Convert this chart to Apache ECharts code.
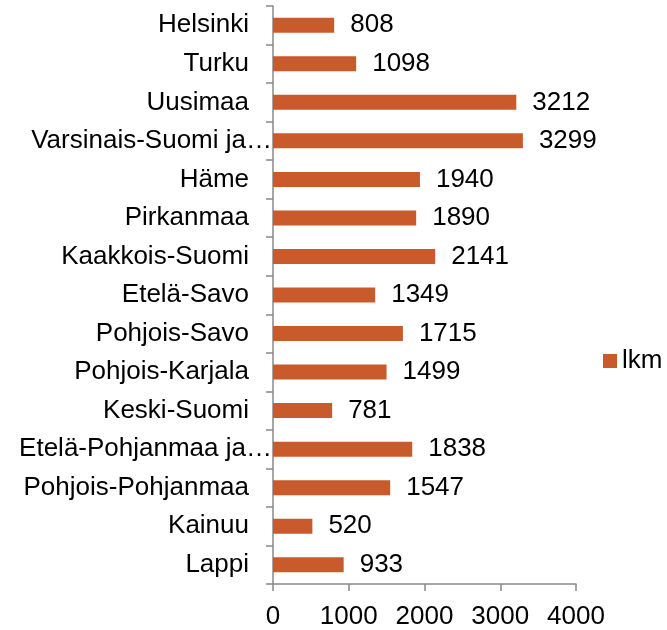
<!DOCTYPE html>
<html>
<head>
<meta charset="utf-8">
<script src="https://cdn.jsdelivr.net/npm/echarts@6/dist/echarts.min.js"></script>
<style>
  html, body { margin: 0; padding: 0; background: #fff; }
  #chart { width: 667px; height: 630px; }
</style>
</head>
<body>
<div id="chart"></div>
<script>
// regions, top to bottom
const regions = ['Helsinki', 'Turku', 'Uusimaa', 'Varsinais-Suomi ja Satakunta', 'Häme', 'Pirkanmaa',
  'Kaakkois-Suomi', 'Etelä-Savo', 'Pohjois-Savo', 'Pohjois-Karjala', 'Keski-Suomi',
  'Etelä-Pohjanmaa ja Pohjanmaa', 'Pohjois-Pohjanmaa', 'Kainuu', 'Lappi']
const lkm = [808, 1098, 3212, 3299, 1940, 1890, 2141, 1349, 1715, 1499, 781, 1838, 1547, 520, 933]
const xTicks = [0, 1000, 2000, 3000, 4000]

const barColor = '#C85A2C'
const axisColor = '#898989'
const font = '"Liberation Sans", Arial, sans-serif'
const fs = 26

const chart = echarts.init(document.getElementById('chart'))
chart.setOption({
  animation: false,
  textStyle: {fontFamily: font},
  legend: {
    data: ['lkm'],
    orient: 'vertical',
    left: 603,
    top: 348,
    padding: 0,
    itemWidth: 14,
    itemHeight: 14,
    icon: 'rect',
    textStyle: {fontSize: fs, color: '#000', fontFamily: font}
  },
  grid: {left: 273, right: 91, top: 6, bottom: 43, containLabel: false},
  xAxis: {
    type: 'value',
    min: xTicks[0],
    max: xTicks[xTicks.length - 1],
    interval: 1000,
    splitLine: {show: false},
    axisLine: {show: true, lineStyle: {color: axisColor, width: 1.5}},
    axisTick: {show: true, length: 7, lineStyle: {color: axisColor, width: 1.5}},
    axisLabel: {fontSize: fs, color: '#000', margin: 20, fontFamily: font, formatter: v => String(v)}
  },
  yAxis: {
    type: 'category',
    data: regions,
    inverse: true,
    axisLine: {show: true, lineStyle: {color: axisColor, width: 1.5}},
    axisTick: {show: true, length: 7, lineStyle: {color: axisColor, width: 1.5}},
    axisLabel: {
      fontSize: fs,
      color: '#000',
      margin: 1,
      fontFamily: font,
      formatter: function (v) {
        if (v.length > 20) {
          return '{cut|' + v.slice(0, v.indexOf(' ja') + 3) + '…}'
        }
        return '{n|' + v + '}'
      },
      rich: {
        n: {fontSize: fs, color: '#000', fontFamily: font, padding: [0, 23, 0, 0]},
        cut: {fontSize: fs, color: '#000', fontFamily: font}
      }
    }
  },
  series: [{
    name: 'lkm',
    type: 'bar',
    data: lkm,
    barWidth: 15,
    itemStyle: {color: barColor},
    label: {
      show: true,
      position: 'right',
      distance: 16,
      fontSize: fs,
      color: '#000',
      fontFamily: font
    }
  }]
})
</script>
</body>
</html>
